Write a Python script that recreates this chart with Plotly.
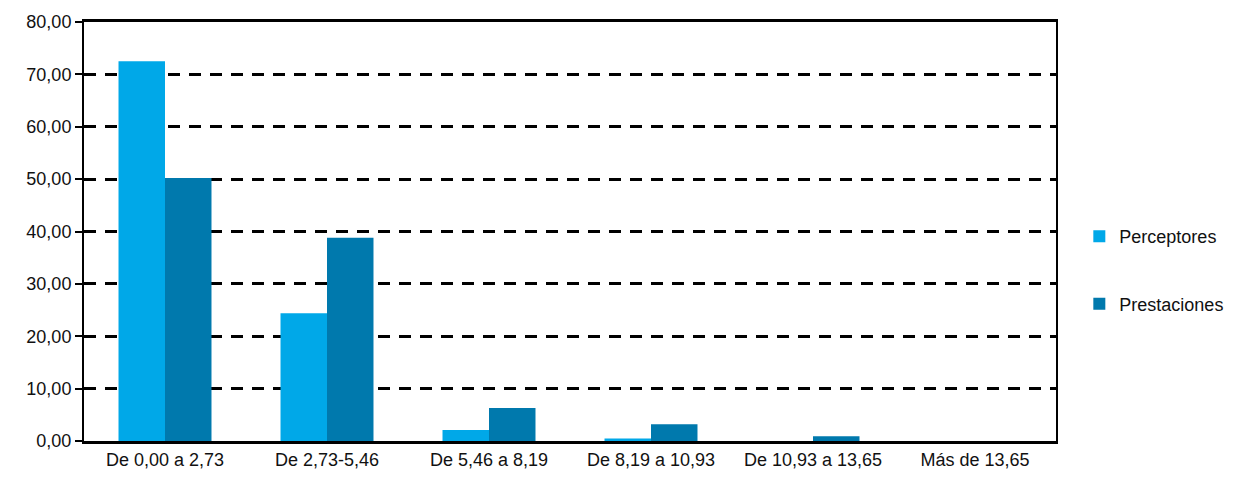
import plotly.graph_objects as go

categories = ["De 0,00 a 2,73", "De 2,73-5,46", "De 5,46 a 8,19",
              "De 8,19 a 10,93", "De 10,93 a 13,65", "Más de 13,65"]
perceptores = [72.5, 24.4, 2.1, 0.5, 0.0, 0.0]
prestaciones = [50.2, 38.8, 6.3, 3.2, 0.9, 0.0]

FONT = "Liberation Sans Narrow, Arial Narrow, Liberation Sans, Arial"

fig = go.Figure()
fig.add_trace(go.Bar(x=categories, y=perceptores, name="Perceptores",
                     marker=dict(color="#00A8E8", line=dict(width=0)),
                     legendgroup="a"))
fig.add_trace(go.Bar(x=categories, y=prestaciones, name="Prestaciones",
                     marker=dict(color="#0079AD", line=dict(width=0)),
                     legendgroup="b"))

fig.update_layout(
    width=1217, height=464,
    margin=dict(l=76, r=169, t=14, b=31, autoexpand=False),
    plot_bgcolor="white", paper_bgcolor="white",
    barmode="group", bargap=0.426, bargroupgap=0,
    separators=",.",
    font=dict(family=FONT, size=18, color="#111111"),
    showlegend=True,
    legend=dict(x=1.024, y=0.408, xanchor="left", yanchor="middle",
                traceorder="grouped", tracegroupgap=41,
                bgcolor="rgba(0,0,0,0)",
                font=dict(family=FONT, size=18, color="#111111"),
                itemwidth=30),
)
fig.update_xaxes(showline=True, linecolor="black", linewidth=3, mirror=True,
                 ticks="", showgrid=False, tickfont=dict(size=18),
                 automargin=False)
fig.update_yaxes(range=[0, 80], dtick=10, tickformat=".2f",
                 showline=True, linecolor="black", linewidth=2, mirror=True,
                 ticks="outside", ticklen=7, tickwidth=2, tickcolor="black",
                 showgrid=True, gridcolor="black", gridwidth=2.5,
                 griddash="12px,9px",
                 zeroline=False, tickfont=dict(size=18), automargin=False)

fig.write_html("out.html")
